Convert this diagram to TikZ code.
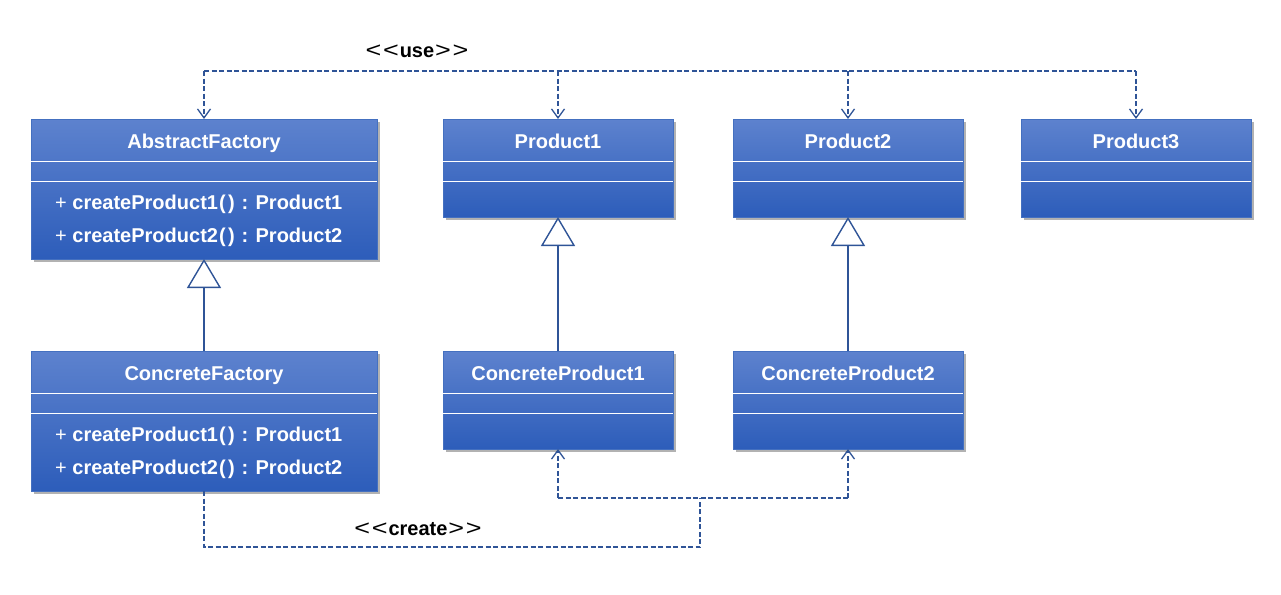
\documentclass[tikz,border=0pt]{standalone}
\usepackage{fontspec}
\usepackage{graphicx}
\newfontfamily\uifont{Liberation Sans}
\usetikzlibrary{calc,shadows,arrows.meta}
\definecolor{clstop}{HTML}{5D82CE}
\definecolor{clsbot}{HTML}{2D5DBA}
\definecolor{clsborder}{HTML}{4470C0}
\definecolor{conn}{HTML}{2F5497}
\newcommand{\wlt}{\makebox[17.5pt]{\scalebox{1.35}[1.08]{<}}}
\newcommand{\wgt}{\makebox[17.5pt]{\scalebox{1.35}[1.08]{>}}}
\newcommand{\wpar}{\makebox[9pt]{(}\makebox[9pt]{)}}
\begin{document}
\begin{tikzpicture}[x=1pt,y=-1pt,
  cls/.style={draw=clsborder, line width=0.8pt, top color=clstop, bottom color=clsbot,
    drop shadow={shadow xshift=3pt, shadow yshift=-3pt, fill=black, opacity=0.3},
    anchor=north west, inner sep=0pt, outer sep=0pt},
  wide/.style={minimum width=346pt, minimum height=140pt},
  narrow/.style={minimum width=230pt, minimum height=98pt},
  ttl/.style={text=white, font=\uifont\fontsize{20}{23}\selectfont\bfseries, inner sep=0pt, anchor=base},
  meth/.style={text=white, font=\uifont\fontsize{20}{23}\selectfont\bfseries, inner sep=0pt, anchor=base west},
  sep/.style={draw=white, line width=1pt},
  dep/.style={draw=conn, line width=1.4pt, dash pattern=on 5pt off 2.5pt},
  arr/.style={-{Straight Barb[length=9pt,width=13pt,line width=1.3pt]}},
  gen/.style={draw=conn, line width=1.4pt, -{Triangle[length=29pt,width=34pt,fill=white,line width=1.4pt]}},
  lbl/.style={text=black, font=\uifont\fontsize{20}{23}\selectfont, inner sep=0pt, anchor=base}]
\useasboundingbox (0,0) rectangle (1281,594);

% class boxes
\node[cls,wide] (af) at (31,119) {};
\node[cls,narrow] (p1) at (443,119) {};
\node[cls,narrow] (p2) at (733,119) {};
\node[cls,narrow] (p3) at (1021,119) {};
\node[cls,wide] (cf) at (31,351) {};
\node[cls,narrow] (cp1) at (443,351) {};
\node[cls,narrow] (cp2) at (733,351) {};

% separators and titles
\foreach \b/\t in {af/AbstractFactory, p1/Product1, p2/Product2, p3/Product3, cf/ConcreteFactory, cp1/ConcreteProduct1, cp2/ConcreteProduct2}{
  \draw[sep] ($(\b.north west)+(0,42)$) -- ($(\b.north east)+(0,42)$);
  \draw[sep] ($(\b.north west)+(0,62)$) -- ($(\b.north east)+(0,62)$);
  \node[ttl] (\b-t) at ($(\b.north)+(0,29.5)$) {\t};
}

% methods
\node[meth] (af-m1) at (55,209) {\mdseries+ \bfseries createProduct1\wpar\ : Product1};
\node[meth] (af-m2) at (55,242) {\mdseries+ \bfseries createProduct2\wpar\ : Product2};
\node[meth] (cf-m1) at (55,441) {\mdseries+ \bfseries createProduct1\wpar\ : Product1};
\node[meth] (cf-m2) at (55,474) {\mdseries+ \bfseries createProduct2\wpar\ : Product2};

% generalization
\draw[gen] (cf.north) -- (af.south);
\draw[gen] (cp1.north) -- (p1.south);
\draw[gen] (cp2.north) -- (p2.south);

% use dependency
\coordinate (ubus) at (557,71);
\draw[dep] (af.north |- ubus) -- (p3.north |- ubus);
\draw[dep,arr] (af.north |- ubus) -- (af.north);
\draw[dep,arr] (p1.north |- ubus) -- (p1.north);
\draw[dep,arr] (p2.north |- ubus) -- (p2.north);
\draw[dep,arr] (p3.north |- ubus) -- (p3.north);
\node[lbl] (uselbl) at (417,57) {\wlt\wlt\textbf{use}\wgt\wgt};

% create dependency
\coordinate (cb) at (700,547);
\coordinate (cj) at (700,498);
\draw[dep] (cf.south) |- (cb) -- (cj);
\draw[dep] (cp1.south |- cj) -- (cp2.south |- cj);
\draw[dep,arr] (cp1.south |- cj) -- (cp1.south);
\draw[dep,arr] (cp2.south |- cj) -- (cp2.south);
\node[lbl] (crlbl) at (418,535) {\wlt\wlt\textbf{create}\wgt\wgt};
\end{tikzpicture}
\end{document}
